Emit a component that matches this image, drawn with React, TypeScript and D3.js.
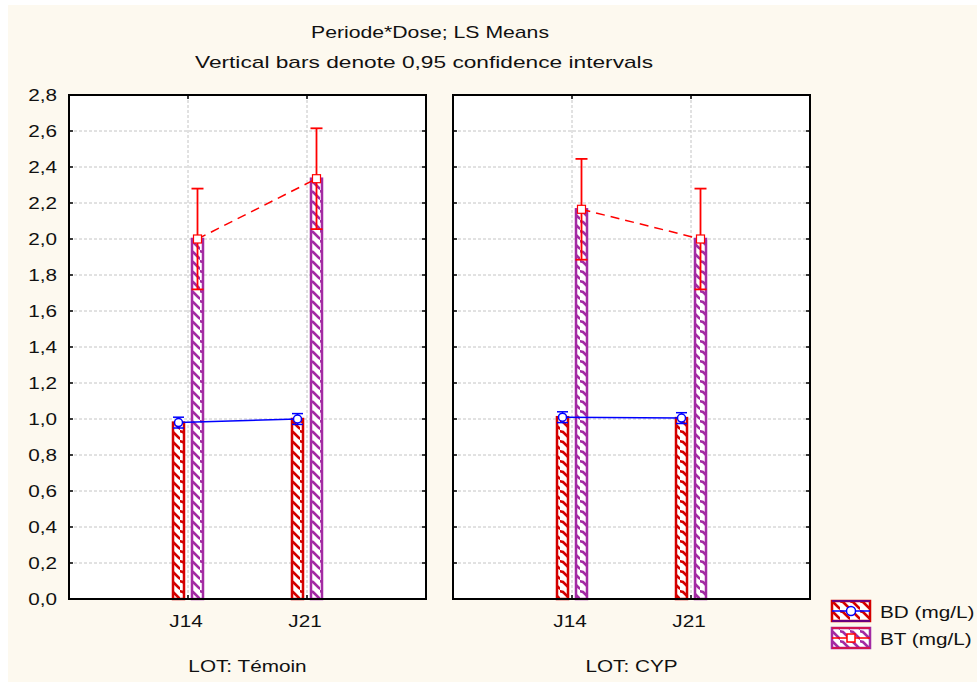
import React from 'react'
import * as d3 from 'd3'

const periods = ['J14', 'J21']
const lots = ['Témoin', 'CYP']
const yTicks = [0, 0.2, 0.4, 0.6, 0.8, 1.0, 1.2, 1.4, 1.6, 1.8, 2.0, 2.2, 2.4, 2.6, 2.8]

// LS means per lot (rows) and period (cols)
const bdMeans = [
  [0.98, 1.0],
  [1.01, 1.005],
]
const bdCI = [
  [0.03, 0.03],
  [0.03, 0.03],
]
const btMeans = [
  [2.0, 2.335],
  [2.165, 2.0],
]
const btCI = [
  [0.28, 0.28],
  [0.28, 0.28],
]

const W = 977
const H = 682
const panelLeft = [69, 453]
const panelWidth = 357
const top = 95
const bottom = 599
const barW = 11
const barOff = 9.5
const font = 'Liberation Sans, Arial, sans-serif'

const bdColor = '#d40000'
const btColor = '#a32ba3'
const blue = '#0000ff'
const red = '#ff0000'

function fmt(v: number) {
  return v.toFixed(1).replace('.', ',')
}

// wide-looking label text, like the original export
function Txt({ x, y, anchor = 'start', children }: { x: number; y: number; anchor?: string; children: React.ReactNode }) {
  return (
    <text
      transform={`translate(${x},${y}) scale(1.22,1)`}
      textAnchor={anchor}
      fontSize={17}
      fontFamily={font}
      fill="#111"
    >
      {children}
    </text>
  )
}

function Panel({ li }: { li: number }) {
  const x0 = panelLeft[li]
  const x = d3
    .scalePoint<string>()
    .domain(periods)
    .range([x0, x0 + panelWidth])
    .padding(1)
  const y = d3.scaleLinear().domain([0, 2.8]).range([bottom, top])

  const bdPts = periods.map((p, i) => [(x(p) as number) - barOff, y(bdMeans[li][i])] as [number, number])
  const btPts = periods.map((p, i) => [(x(p) as number) + barOff, y(btMeans[li][i])] as [number, number])
  const line = d3.line()

  return (
    <g>
      <rect x={x0} y={top} width={panelWidth} height={bottom - top} fill="#ffffff" />
      {yTicks.slice(1, -1).map((t) => (
        <line key={t} x1={x0} x2={x0 + panelWidth} y1={y(t)} y2={y(t)} stroke="#c4c4c4" strokeDasharray="3,2" />
      ))}
      {periods.map((p) => (
        <line key={p} x1={x(p)} x2={x(p)} y1={top} y2={bottom} stroke="#c4c4c4" strokeDasharray="3,2" />
      ))}
      {periods.map((p, i) => (
        <g key={p}>
          <rect
            x={(x(p) as number) - barOff - barW / 2}
            y={y(bdMeans[li][i])}
            width={barW}
            height={bottom - y(bdMeans[li][i])}
            fill="url(#patBD)"
            stroke={bdColor}
            strokeWidth={2.5}
          />
          <rect
            x={(x(p) as number) + barOff - barW / 2}
            y={y(btMeans[li][i])}
            width={barW}
            height={bottom - y(btMeans[li][i])}
            fill="url(#patBT)"
            stroke={btColor}
            strokeWidth={2.5}
          />
        </g>
      ))}
      <path d={line(bdPts) || ''} fill="none" stroke={blue} strokeWidth={1.5} />
      <path d={line(btPts) || ''} fill="none" stroke={red} strokeWidth={1.5} strokeDasharray="9,6" />
      {periods.map((p, i) => {
        const cx = (x(p) as number) - barOff
        const lo = y(bdMeans[li][i] - bdCI[li][i])
        const hi = y(bdMeans[li][i] + bdCI[li][i])
        return (
          <g key={p} stroke={blue} strokeWidth={1.5}>
            <line x1={cx} x2={cx} y1={lo} y2={hi} />
            <line x1={cx - 5.5} x2={cx + 5.5} y1={lo} y2={lo} />
            <line x1={cx - 5.5} x2={cx + 5.5} y1={hi} y2={hi} />
            <circle cx={cx} cy={y(bdMeans[li][i])} r={4} fill="#ffffff" />
          </g>
        )
      })}
      {periods.map((p, i) => {
        const cx = (x(p) as number) + barOff
        const lo = y(btMeans[li][i] - btCI[li][i])
        const hi = y(btMeans[li][i] + btCI[li][i])
        const cy = y(btMeans[li][i])
        return (
          <g key={p} stroke={red} strokeWidth={1.8}>
            <line x1={cx} x2={cx} y1={lo} y2={hi} />
            <line x1={cx - 6} x2={cx + 6} y1={lo} y2={lo} />
            <line x1={cx - 6} x2={cx + 6} y1={hi} y2={hi} />
            <rect x={cx - 4} y={cy - 4} width={8} height={8} fill="#ffffff" strokeWidth={1.2} />
          </g>
        )
      })}
      {/* frame and inward ticks */}
      <rect x={x0} y={top} width={panelWidth} height={bottom - top} fill="none" stroke="#000" strokeWidth={2} />
      {yTicks.map((t) => (
        <g key={t} stroke="#000" strokeWidth={1.5}>
          <line x1={x0} x2={x0 + 4} y1={y(t)} y2={y(t)} />
          <line x1={x0 + panelWidth - 4} x2={x0 + panelWidth} y1={y(t)} y2={y(t)} />
        </g>
      ))}
      {periods.map((p) => (
        <g key={p}>
          <line x1={x(p)} x2={x(p)} y1={bottom} y2={bottom - 4} stroke="#000" strokeWidth={1.5} />
          <line x1={x(p)} x2={x(p)} y1={top} y2={top + 4} stroke="#000" strokeWidth={1.5} />
          <Txt x={(x(p) as number) - 2} y={627} anchor="middle">
            {p}
          </Txt>
        </g>
      ))}
      <Txt x={x0 + panelWidth / 2} y={672} anchor="middle">
        {'LOT: ' + lots[li]}
      </Txt>
    </g>
  )
}

function Swatch({ y0, pat, border, lineColor, marker }: { y0: number; pat: string; border: string; lineColor: string; marker: 'circle' | 'square' }) {
  const x0 = 832
  const w = 38
  const h = 20
  return (
    <g>
      <rect x={x0} y={y0} width={w} height={h} fill={`url(#${pat})`} stroke={border} strokeWidth={2.5} />
      <line x1={x0} x2={x0 + w} y1={y0} y2={y0} stroke={lineColor} strokeWidth={1} />
      <line x1={x0} x2={x0 + w} y1={y0 + h} y2={y0 + h} stroke={lineColor} strokeWidth={1} />
      <line x1={x0} x2={x0 + w} y1={y0 + h / 2} y2={y0 + h / 2} stroke={lineColor} strokeWidth={1.5} />
      {marker === 'circle' ? (
        <circle cx={x0 + w / 2} cy={y0 + h / 2} r={4.5} fill="#fff" stroke={lineColor} strokeWidth={1.5} />
      ) : (
        <rect x={x0 + w / 2 - 4} y={y0 + h / 2 - 4} width={8} height={8} fill="#fff" stroke={lineColor} strokeWidth={1.5} />
      )}
    </g>
  )
}

function Hatch({ id, color }: { id: string; color: string }) {
  return (
    <pattern id={id} patternUnits="userSpaceOnUse" width={10} height={10}>
      <rect width={10} height={10} fill="#ffffff" />
      <path d="M-1,1 L3,2 L9,8 L11,9" fill="none" stroke={color} strokeWidth={2.6} />
      <path d="M-1,-9 L3,-8 L9,-2 L11,-1" fill="none" stroke={color} strokeWidth={2.6} />
      <path d="M-1,11 L3,12" fill="none" stroke={color} strokeWidth={2.6} />
    </pattern>
  )
}

export default function App() {
  const y = d3.scaleLinear().domain([0, 2.8]).range([bottom, top])
  return (
    <svg width={W} height={H} style={{ position: 'absolute', left: 0, top: 0 }}>
      <defs>
        <Hatch id="patBD" color={bdColor} />
        <Hatch id="patBT" color={btColor} />
      </defs>
      <rect x={8} y={5} width={W - 8} height={H - 5} fill="#fdf9ef" />
      <text
        x={430}
        y={38}
        textAnchor="middle"
        fontSize={17}
        fontFamily={font}
        fill="#111"
        textLength={238}
        lengthAdjust="spacingAndGlyphs"
      >
        Periode*Dose; LS Means
      </text>
      <text
        x={424}
        y={68}
        textAnchor="middle"
        fontSize={17}
        fontFamily={font}
        fill="#111"
        textLength={458}
        lengthAdjust="spacingAndGlyphs"
      >
        Vertical bars denote 0,95 confidence intervals
      </text>
      {yTicks.map((t) => (
        <Txt key={t} x={57} y={y(t) + 6} anchor="end">
          {fmt(t)}
        </Txt>
      ))}
      {lots.map((l, i) => (
        <Panel key={l} li={i} />
      ))}
      <Swatch y0={601} pat="patBD" border={bdColor} lineColor={blue} marker="circle" />
      <Swatch y0={628} pat="patBT" border={btColor} lineColor={red} marker="square" />
      <Txt x={880} y={618}>
        BD (mg/L)
      </Txt>
      <Txt x={880} y={645}>
        BT (mg/L)
      </Txt>
    </svg>
  )
}
